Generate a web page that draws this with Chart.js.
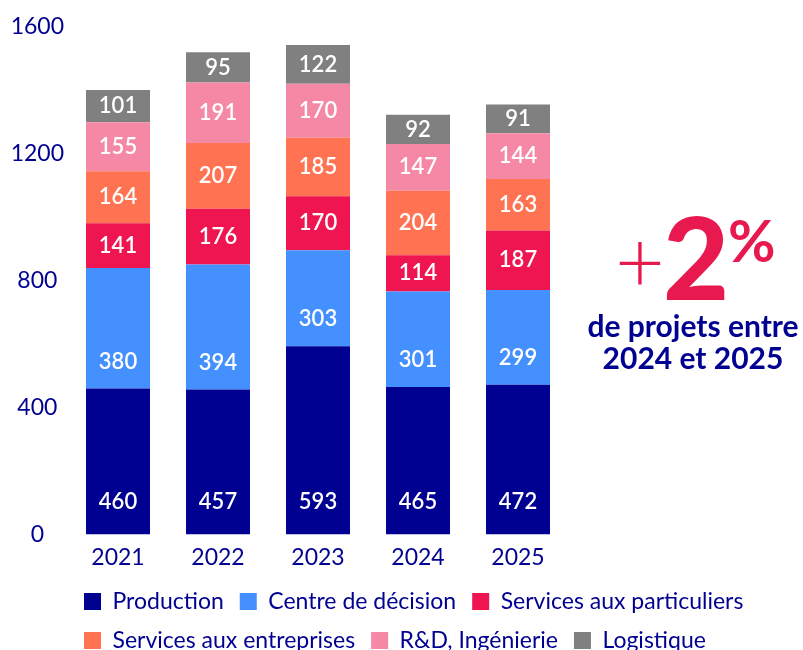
<!DOCTYPE html>
<html lang="fr">
<head>
<meta charset="utf-8">
<title>Projets par fonction</title>
<script src="https://cdn.jsdelivr.net/npm/chart.js@4.4.1/dist/chart.umd.min.js"></script>
<style>
  html, body { margin: 0; padding: 0; background: #fff; }
</style>
</head>
<body>
<canvas id="graphique" width="803" height="650"></canvas>
<script>
// Données
const annees = ['2021', '2022', '2023', '2024', '2025'];
const production = [460, 457, 593, 465, 472];
const centreDecision = [380, 394, 303, 301, 299];
const servicesParticuliers = [141, 176, 170, 114, 187];
const servicesEntreprises = [164, 207, 185, 204, 163];
const rdIngenierie = [155, 191, 170, 147, 144];
const logistique = [101, 95, 122, 92, 91];
const ticksY = [0, 400, 800, 1200, 1600];

const BLEU_NUIT = '#000091';
const ROUGE = '#E8194F';
const POLICE = 'Lato, "Open Sans", sans-serif';

// Valeurs blanches dans chaque segment
const etiquettesValeurs = {
  id: 'etiquettesValeurs',
  afterDatasetsDraw(chart) {
    const ctx = chart.ctx;
    ctx.save();
    ctx.font = `600 22px ${POLICE}`;
    ctx.fillStyle = '#fff';
    ctx.textAlign = 'center';
    ctx.textBaseline = 'middle';
    chart.data.datasets.forEach((ds, i) => {
      chart.getDatasetMeta(i).data.forEach((barre, j) => {
        const { x, y, base } = barre.getProps(['x', 'y', 'base'], true);
        let yTexte = (y + base) / 2;
        // les deux premières séries ont leur valeur en bas du segment
        if (ds.decalage) yTexte = base - ds.decalage;
        ctx.fillText(ds.data[j], x, yTexte);
      });
    });
    ctx.restore();
  }
};

// Encart "+2%" à droite
const encart = {
  id: 'encart',
  afterDraw(chart) {
    const ctx = chart.ctx;
    ctx.save();
    ctx.fillStyle = ROUGE;
    ctx.textBaseline = 'alphabetic';
    ctx.textAlign = 'center';
    ctx.font = `300 86px ${POLICE}`;
    ctx.fillText('+', 640, 293);
    ctx.textAlign = 'left';
    ctx.font = `900 114px ${POLICE}`;
    ctx.fillText('2', 663, 300);
    ctx.font = `bold 58px ${POLICE}`;
    ctx.fillText('%', 728, 262);
    ctx.fillStyle = BLEU_NUIT;
    ctx.textAlign = 'center';
    ctx.font = `bold 30px ${POLICE}`;
    ctx.fillText('de projets entre', 693, 337);
    ctx.fillText('2024 et 2025', 693, 369);
    ctx.restore();
  }
};

// La légende commence au bord gauche de la zone du graphique
const placementLegende = {
  id: 'placementLegende',
  afterLayout(chart) {
    chart.legend.left = chart.chartArea.left;
    chart.legend.top -= 6;
  }
};

const ctx = document.getElementById('graphique').getContext('2d');

new Chart(ctx, {
  type: 'bar',
  data: {
    labels: annees,
    datasets: [
      { label: 'Production', data: production, backgroundColor: BLEU_NUIT, decalage: 32 },
      { label: 'Centre de décision', data: centreDecision, backgroundColor: '#4590FF', decalage: 27 },
      { label: 'Services aux particuliers', data: servicesParticuliers, backgroundColor: '#EE1550' },
      { label: 'Services aux entreprises', data: servicesEntreprises, backgroundColor: '#FF7352' },
      { label: 'R&D, Ingénierie', data: rdIngenierie, backgroundColor: '#F589A5' },
      { label: 'Logistique', data: logistique, backgroundColor: '#808080' }
    ]
  },
  options: {
    responsive: false,
    animation: false,
    devicePixelRatio: 1,
    layout: { padding: { top: 27, left: 0, right: 0, bottom: 0 } },
    datasets: {
      bar: { categoryPercentage: 1, barPercentage: 0.64, borderWidth: 0 }
    },
    scales: {
      x: {
        stacked: true,
        grid: { display: false, drawTicks: false },
        border: { display: false },
        ticks: { color: BLEU_NUIT, padding: 9, font: { family: POLICE, size: 23 } }
      },
      y: {
        stacked: true,
        min: ticksY[0],
        max: ticksY[ticksY.length - 1],
        afterBuildTicks: (axe) => { axe.ticks = ticksY.map(v => ({ value: v })); },
        afterFit: (axe) => { axe.width = 68; },
        grid: { display: false, drawTicks: false },
        border: { display: false },
        ticks: {
          color: BLEU_NUIT,
          padding: 4,
          crossAlign: 'center',
          font: { family: POLICE, size: 23 },
          callback: (v) => String(v)
        }
      },
      droite: {
        position: 'right',
        afterFit: (axe) => { axe.width = 235; },
        grid: { display: false, drawTicks: false },
        border: { display: false },
        ticks: { display: false }
      }
    },
    plugins: {
      legend: {
        position: 'bottom',
        align: 'start',
        maxHeight: 70,
        labels: {
          color: BLEU_NUIT,
          boxWidth: 17,
          boxHeight: 17,
          padding: 16,
          font: { family: POLICE, size: 23 }
        }
      },
      tooltip: { enabled: false }
    }
  },
  plugins: [etiquettesValeurs, encart, placementLegende]
});
</script>
</body>
</html>
